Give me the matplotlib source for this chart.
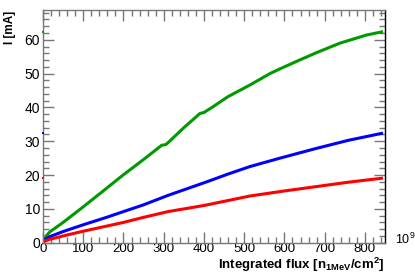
import matplotlib
matplotlib.use("Agg")
import matplotlib.pyplot as plt
from matplotlib.ticker import MultipleLocator

plt.rcParams['font.family'] = ['Liberation Sans', 'DejaVu Sans']
plt.rcParams['mathtext.fontset'] = 'custom'
plt.rcParams['mathtext.rm'] = 'Liberation Sans'
plt.rcParams['mathtext.bf'] = 'Liberation Sans:bold'

# Integrated flux (units of 1e9 n_1MeV/cm^2) and currents (mA)
flux_green = [0, 5, 17, 50, 100, 158, 200, 250, 295, 305, 311, 350, 390, 400, 420, 460,
              514, 564, 589, 630, 680, 738, 804, 845]
cur_green = [0, 1.6, 3.2, 6.0, 10.6, 16.1, 20.1, 24.6, 28.8, 29.0, 29.6, 34.0, 38.2, 38.5,
             40.0, 43.2, 46.6, 50.0, 51.4, 53.6, 56.2, 59.0, 61.4, 62.4]

flux_blue = [0, 5, 17, 50, 100, 158, 200, 250, 311, 407, 460, 514, 589, 680, 760, 845]
cur_blue = [0, 0.9, 1.8, 3.3, 5.3, 7.5, 9.2, 11.2, 14.0, 18.0, 20.3, 22.5, 25.0, 27.9, 30.3, 32.4]

flux_red = [0, 5, 17, 50, 100, 158, 200, 250, 311, 400, 514, 600, 680, 760, 845]
cur_red = [0, 0.5, 1.0, 2.0, 3.4, 4.9, 6.0, 7.5, 9.2, 11.0, 13.8, 15.3, 16.6, 17.9, 19.1]

# stray end-points drawn at x=0
stray_flux = [0, 0, 0]
stray_cur = [62.3, 32.4, 19.2]
stray_col = ['#009900', '#0000ff', '#ff0000']

fig = plt.figure(figsize=(4.15, 2.73), dpi=100)
ax = fig.add_axes([43/415, 1 - 242.7/273, (385 - 43)/415, (242.7 - 10)/273])

ax.plot(flux_green, cur_green, color='#009900', lw=2.2, solid_capstyle='butt')
ax.plot(flux_blue, cur_blue, color='#0000ff', lw=2.2, solid_capstyle='butt')
ax.plot(flux_red, cur_red, color='#ff0000', lw=2.2, solid_capstyle='butt')
ax.scatter(stray_flux, stray_cur, c=stray_col, s=3, marker='s', zorder=5, clip_on=False, linewidths=0)

ax.set_xlim(0, 850)
ax.set_ylim(0, 68.8)

ax.xaxis.set_major_locator(MultipleLocator(100))
ax.xaxis.set_minor_locator(MultipleLocator(20))
ax.yaxis.set_major_locator(MultipleLocator(10))
ax.yaxis.set_minor_locator(MultipleLocator(2))

ax.tick_params(which='both', direction='in', top=True, right=True, color='#777777',
               labelsize=10, pad=2)
ax.tick_params(axis='x', which='both', pad=0.5, labelsize=9.5)
ax.tick_params(which='major', length=8, width=1)
ax.tick_params(which='minor', length=4.5, width=1)

for s in ['left', 'bottom', 'top']:
    ax.spines[s].set_color('#777777')
ax.spines['right'].set_color('black')
for s in ax.spines.values():
    s.set_linewidth(1)

fig.text(384/415, 1 - 269.5/273,
         r'Integrated flux [n$_{\mathbf{1MeV}}$/cm$^{\mathbf{2}}$]',
         fontsize=9.5, fontweight='bold', ha='right', va='baseline')
fig.text(9.5/415, 1 - 11/273, 'I [mA]', fontsize=8.5, fontweight='bold',
         rotation=90, ha='center', va='top')

fig.text(395/415, 1 - 244/273, r'10$^{9}$', fontsize=9, va='baseline', ha='left')

fig.savefig('out.png', dpi=100)
